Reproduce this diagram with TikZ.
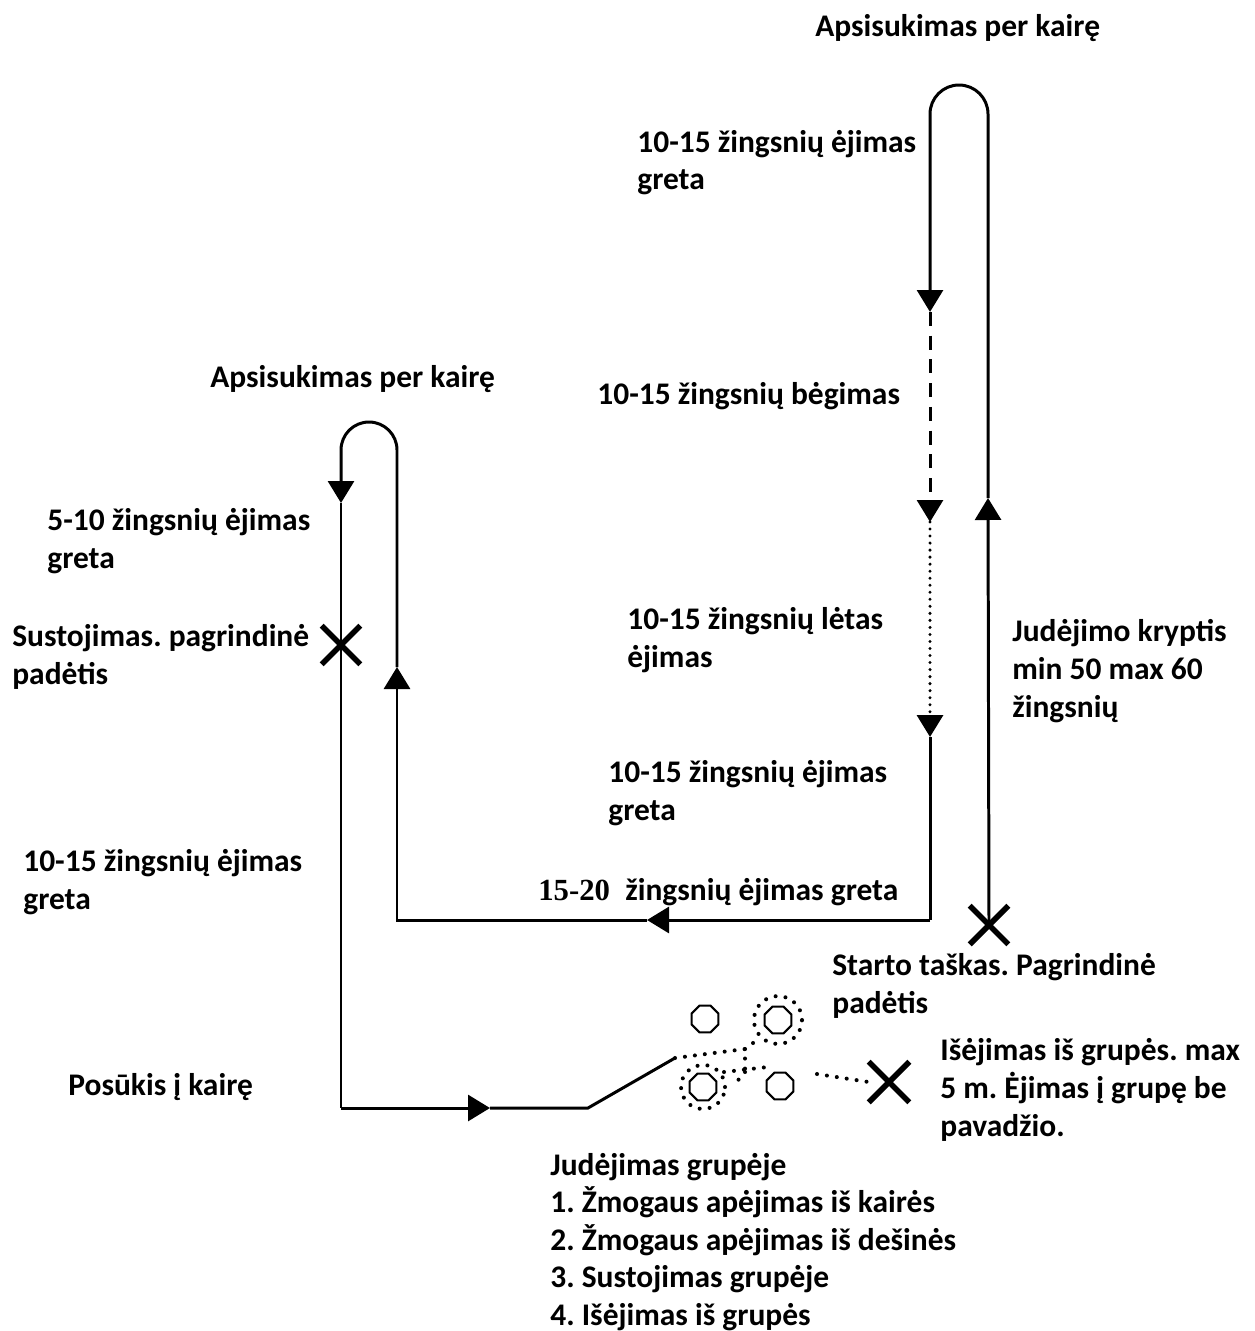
\documentclass[tikz,border=0pt]{standalone}
\usepackage{fontspec}
\setmainfont{Carlito}
\newfontfamily\numfont{Liberation Serif}
\usetikzlibrary{arrows.meta,shapes.geometric,shapes.misc}

\tikzset{
  lbl/.style = {anchor=base west, align=left, inner sep=0pt,
    font=\fontsize{17.9}{21.6}\selectfont\bfseries\frenchspacing},
  track/.style = {line width=1.7pt},
  fwd/.style = {track, -{Triangle[length=0.44cm, width=0.52cm]}},
  runline/.style = {dash pattern=on 8pt off 5.5pt},
  slowline/.style = {line width=1.9pt, line cap=round, dash pattern=on 0pt off 4pt},
  xmark/.style = {cross out, draw, line width=3.2pt, minimum size=0.66cm, inner sep=0pt},
  person/.style = {regular polygon, regular polygon sides=8, draw, line width=1.2pt,
    minimum size=0.58cm, inner sep=0pt},
  crowd/.style = {line width=2.3pt, line cap=round, dash pattern=on 0pt off 5.7pt}
}

\begin{document}
\begin{tikzpicture}[x=0.02cm, y=-0.02cm]
\useasboundingbox (0,0) rectangle (1254,1331);

\coordinate (rt1) at (930,114);
\coordinate (rt2) at (988,114);
\coordinate (ra1) at (930,312);
\coordinate (ra2) at (930,522);
\coordinate (ra3) at (930,737);
\coordinate (rc) at (930,920);
\coordinate (rup) at (988,498);
\coordinate (ha) at (647,920);
\coordinate (lc) at (397,920);
\coordinate (la1) at (397,667);
\coordinate (lt2) at (397,450);
\coordinate (la2) at (341,503);
\coordinate (bc) at (341,1108);
\coordinate (ba) at (490,1108);
\coordinate (bk) at (588,1108);
\coordinate (be) at (675,1058);

\node [xmark] (start) at (989,925) {};
\node [xmark] (stop) at (341,645) {};
\node [xmark, minimum size=0.7cm] (exit) at (889,1082) {};

\draw [fwd] (start.center) -- (rup);
\draw [fwd] (rup) -- (rt2) arc [start angle=0, end angle=180, radius=0.58cm] -- (ra1);
\draw [fwd, runline] (ra1) -- (ra2);
\draw [fwd, slowline] (ra2) -- (ra3);
\draw [track] (ra3) -- (rc);
\draw [fwd] (rc) -- (ha);
\draw [fwd] (ha) -- (lc) -- (la1);
\draw [fwd] (la1) -- (lt2) arc [start angle=0, end angle=180, radius=0.56cm] -- (la2);
\draw [track] (la2) -- (bc);
\draw [fwd] (bc) -- (ba);
\draw [track] (ba) -- (bk) -- (be);

\node [person] (p1) at (705,1019) {};
\node [person] (p2) at (778,1020) {};
\node [person] (p3) at (703,1087) {};
\node [person] (p4) at (780,1086) {};
\draw [crowd] (p2) circle [radius=0.48cm];
\draw [crowd] (p3) circle [radius=0.44cm];
\draw [crowd] (be) -- (745,1049) -- (745,1072);
\draw [crowd] (724,1072) -- (768,1067);
\draw [crowd] (745,1072) -- (734,1085);
\draw [crowd] (745,1049) -- (757,1040);
\draw [crowd] (817,1074) -- (exit.west);

\node [lbl] (t1) at (815,37) {Apsisukimas per kairę};
\node [lbl] (t2) at (637,190) {10-15 žingsnių ėjimas\\greta};
\node [lbl] (t3) at (210,387) {Apsisukimas per kairę};
\node [lbl] (t4) at (597,404) {10-15 žingsnių bėgimas};
\node [lbl] (t5) at (47,568) {5-10 žingsnių ėjimas\\greta};
\node [lbl] (t6) at (12,684) {Sustojimas. pagrindinė\\padėtis};
\node [lbl] (t7) at (627,667) {10-15 žingsnių lėtas\\ėjimas};
\node [lbl] (t8) at (1012,717) {Judėjimo kryptis\\min 50 max 60\\žingsnių};
\node [lbl] (t9) at (608,820) {10-15 žingsnių ėjimas\\greta};
\node [lbl] (t10) at (23,909) {10-15 žingsnių ėjimas\\greta};
\node [lbl, font=\fontsize{17.5}{21}\selectfont\numfont\bfseries] (t11a) at (538,900) {15-20};
\node [lbl] (t11) at (625,900) {žingsnių ėjimas greta};
\node [lbl] (t12) at (832,1013) {Starto taškas. Pagrindinė\\padėtis};
\node [lbl] (t13) at (940,1136) {Išėjimas iš grupės. max\\5 m. Ėjimas į grupę be\\pavadžio.};
\node [lbl] (t14) at (68,1095) {Posūkis į kairę};
\node [lbl, font=\fontsize{17.9}{21.3}\selectfont\bfseries\frenchspacing] (t15) at (550,1325) {Judėjimas grupėje\\1. Žmogaus apėjimas iš kairės\\2. Žmogaus apėjimas iš dešinės\\3. Sustojimas grupėje\\4. Išėjimas iš grupės};
\end{tikzpicture}
\end{document}
